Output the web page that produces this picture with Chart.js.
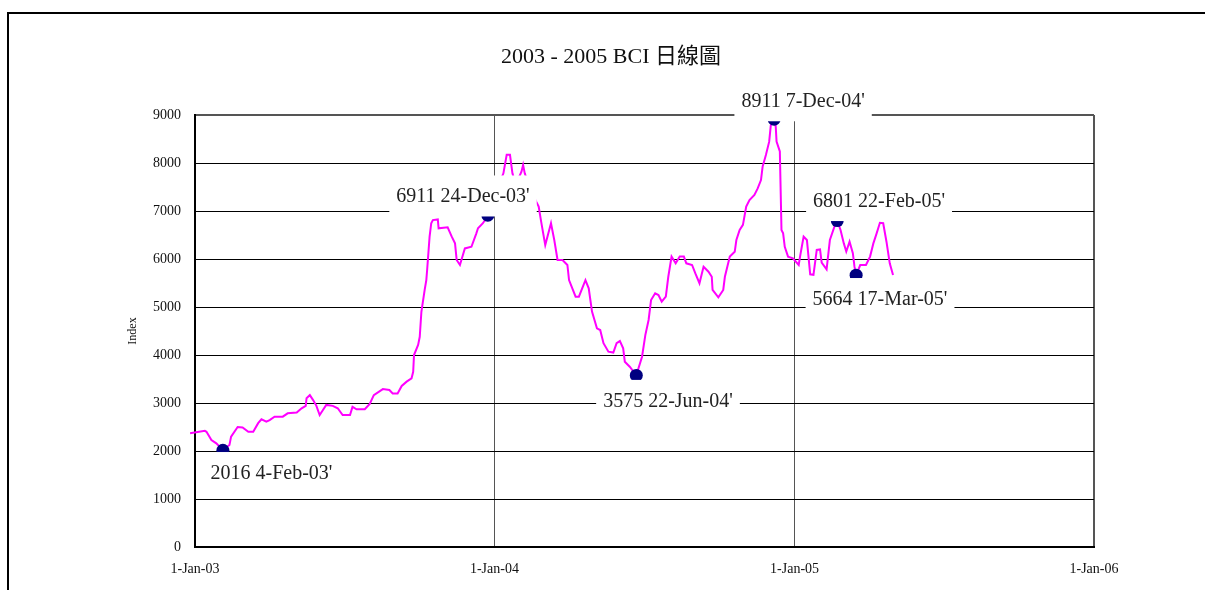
<!DOCTYPE html>
<html>
<head>
<meta charset="utf-8">
<script src="https://cdn.jsdelivr.net/npm/chart.js@4/dist/chart.umd.min.js"></script>
<style>
html,body{margin:0;padding:0;background:#fff;}
#wrap{width:1205px;height:590px;position:relative;}
</style>
</head>
<body>
<div id="wrap"><canvas id="c" width="1205" height="590"></canvas></div>
<script>
// ---- Data ----
const titleText = "2003 - 2005 BCI 日線圖";
const yAxisTitle = "Index";
const xTickDates = ["2003-01-01","2004-01-01","2005-01-01","2006-01-01"];
const xTickLabels = ["1-Jan-03","1-Jan-04","1-Jan-05","1-Jan-06"];
const yTickValues = [0,1000,2000,3000,4000,5000,6000,7000,8000,9000];

const dates = [
"2002-12-26","2003-01-13","2003-01-15","2003-01-21","2003-01-27","2003-02-04","2003-02-12","2003-02-14","2003-02-22","2003-02-28",
"2003-03-07","2003-03-13","2003-03-19","2003-03-23","2003-03-29","2003-04-02","2003-04-08","2003-04-18","2003-04-24","2003-05-05",
"2003-05-11","2003-05-16","2003-05-17","2003-05-21","2003-05-25","2003-05-29","2003-06-02","2003-06-06","2003-06-10","2003-06-18",
"2003-06-24","2003-06-30","2003-07-09","2003-07-12","2003-07-17","2003-07-27","2003-08-02","2003-08-07","2003-08-18","2003-08-26",
"2003-08-30","2003-09-05","2003-09-10","2003-09-16","2003-09-22","2003-09-24","2003-09-25","2003-09-30","2003-10-02","2003-10-04",
"2003-10-08","2003-10-10","2003-10-11","2003-10-14","2003-10-16","2003-10-18","2003-10-24","2003-10-25","2003-11-05","2003-11-10",
"2003-11-14","2003-11-16","2003-11-20","2003-11-26","2003-12-04","2003-12-10","2003-12-12","2003-12-18","2003-12-22","2003-12-24",
"2003-12-29","2004-01-05","2004-01-12","2004-01-16","2004-01-20","2004-01-23","2004-01-27","2004-02-03","2004-02-05","2004-02-07",
"2004-02-13","2004-02-21","2004-02-24","2004-02-27","2004-03-03","2004-03-10","2004-03-14","2004-03-18","2004-03-24","2004-03-30",
"2004-04-01","2004-04-09","2004-04-13","2004-04-21","2004-04-25","2004-04-29","2004-05-05","2004-05-09","2004-05-13","2004-05-19",
"2004-05-25","2004-05-29","2004-06-02","2004-06-06","2004-06-08","2004-06-14","2004-06-22","2004-06-29","2004-07-03","2004-07-07",
"2004-07-10","2004-07-15","2004-07-19","2004-07-23","2004-07-28","2004-07-31","2004-08-04","2004-08-09","2004-08-14","2004-08-19",
"2004-08-22","2004-08-29","2004-09-02","2004-09-07","2004-09-12","2004-09-18","2004-09-22","2004-09-23","2004-09-30","2004-10-06",
"2004-10-08","2004-10-14","2004-10-20","2004-10-22","2004-10-26","2004-10-30","2004-11-03","2004-11-07","2004-11-13","2004-11-17",
"2004-11-21","2004-11-23","2004-11-27","2004-12-01","2004-12-03","2004-12-07","2004-12-09","2004-12-10","2004-12-14","2004-12-16",
"2004-12-18","2004-12-20","2004-12-24","2004-12-30","2005-01-06","2005-01-08","2005-01-12","2005-01-16","2005-01-20","2005-01-24",
"2005-01-28","2005-02-01","2005-02-03","2005-02-09","2005-02-13","2005-02-20","2005-02-22","2005-02-26","2005-03-02","2005-03-05",
"2005-03-09","2005-03-13","2005-03-15","2005-03-17","2005-03-22","2005-03-29","2005-04-03","2005-04-07","2005-04-11","2005-04-15",
"2005-04-19","2005-04-23","2005-04-27","2005-05-01"
];
const values = [
2370,2420,2400,2230,2160,2016,2125,2300,2500,2490,
2400,2400,2580,2660,2610,2645,2715,2715,2785,2800,
2890,2940,3100,3165,3060,2940,2750,2855,2960,2940,
2890,2750,2750,2920,2870,2870,2980,3165,3290,3270,
3200,3200,3355,3445,3515,3650,4000,4210,4380,4900,
5355,5560,5770,6465,6745,6810,6825,6640,6660,6465,
6325,5980,5875,6220,6255,6535,6640,6745,6850,6911,
7150,7500,7785,8170,8170,7785,7550,7820,7960,7785,
7500,7195,7090,6780,6290,6745,6395,5980,5980,5875,
5560,5215,5215,5560,5390,4905,4555,4520,4245,4070,
4050,4245,4290,4140,3860,3755,3575,3965,4415,4730,
5145,5285,5250,5110,5215,5630,6050,5910,6050,6050,
5910,5875,5700,5495,5840,5735,5630,5355,5200,5355,
5630,6050,6150,6395,6605,6710,7090,7230,7335,7470,
7645,7925,8165,8445,8790,8911,8755,8445,8240,6605,
6535,6255,6050,6015,5875,6085,6465,6395,5680,5670,
6190,6200,5925,5785,6395,6745,6801,6605,6325,6155,
6360,6120,5840,5664,5875,5875,6050,6325,6535,6755,
6745,6360,5910,5665
];

// highlighted points with their annotation text
const markerDates  = ["2003-02-04","2003-12-24","2004-06-22","2004-12-07","2005-02-22","2005-03-17"];
const markerValues = [2016, 6911, 3575, 8911, 6801, 5664];
const markerLabels = ["2016 4-Feb-03'","6911 24-Dec-03'","3575 22-Jun-04'","8911 7-Dec-04'","6801 22-Feb-05'","5664 17-Mar-05'"];
// label centre offsets (px) from the marker
const labelOffsets = [[48.6,22.3],[-24.8,-19.3],[31.7,25],[29,-18.5],[41.8,-20],[23.9,23.4]];

// ---- helpers ----
const toMs = s => { const p = s.split('-').map(Number); return Date.UTC(p[0], p[1]-1, p[2]); };
const lineData = dates.map((d,i) => ({x: toMs(d), y: values[i]}));
const markerData = markerDates.map((d,i) => ({x: toMs(d), y: markerValues[i]}));
const tickMs = xTickDates.map(toMs);

const SERIF = "'Liberation Serif','Times New Roman',serif";

const framePlugin = {
  id: 'frame',
  beforeDraw(chart) {
    const ctx = chart.ctx;
    ctx.save();
    ctx.fillStyle = '#fff';
    ctx.fillRect(0,0,chart.width,chart.height);
    ctx.strokeStyle = '#000';
    ctx.lineWidth = 2;
    ctx.beginPath();
    ctx.moveTo(8, 590); ctx.lineTo(8, 13); ctx.lineTo(1205, 13);
    ctx.stroke();
    // title
    ctx.fillStyle = '#111';
    ctx.font = "22px 'Liberation Serif','Noto Sans CJK TC',serif";
    ctx.textAlign = 'center';
    ctx.textBaseline = 'middle';
    ctx.fillText(titleText, 611, 57);
    ctx.restore();
  },
  afterDatasetsDraw(chart) {
    const ctx = chart.ctx;
    const xs = chart.scales.x, ys = chart.scales.y;
    ctx.save();
    ctx.font = "20px " + SERIF;
    ctx.textAlign = 'center';
    ctx.textBaseline = 'middle';
    markerData.forEach((p,i) => {
      const cx = xs.getPixelForValue(p.x) + labelOffsets[i][0];
      const cy = ys.getPixelForValue(p.y) + labelOffsets[i][1];
      const w = ctx.measureText(markerLabels[i]).width + 14;
      const h = 41;
      ctx.fillStyle = '#fff';
      ctx.fillRect(cx - w/2, cy - h/2, w, h);
      ctx.fillStyle = '#222';
      ctx.fillText(markerLabels[i], cx, cy + 1);
    });
    ctx.restore();
  }
};

new Chart(document.getElementById('c'), {
  type: 'line',
  data: {
    datasets: [
      {
        type: 'scatter',
        data: markerData,
        showLine: false,
        pointRadius: 6.5,
        pointHoverRadius: 6.5,
        pointBackgroundColor: '#000080',
        pointBorderWidth: 0,
        order: 1
      },
      {
        data: lineData,
        borderColor: '#FF00FF',
        borderWidth: 2,
        pointRadius: 0,
        tension: 0,
        clip: false,
        order: 2
      }
    ]
  },
  options: {
    responsive: false,
    animation: false,
    events: [],
    layout: { padding: { left: 122, right: 111, top: 115, bottom: 0 } },
    plugins: { legend: { display: false }, tooltip: { enabled: false }, title: { display: false } },
    scales: {
      x: {
        type: 'linear',
        min: tickMs[0],
        max: tickMs[tickMs.length-1],
        afterBuildTicks: s => { s.ticks = tickMs.map(v => ({value: v})); },
        afterFit: s => { s.height = 43; },
        ticks: {
          autoSkip: false,
          maxRotation: 0,
          padding: 14,
          color: '#111',
          font: { family: SERIF, size: 14 },
          callback: (v) => { const i = tickMs.indexOf(v); return i >= 0 ? xTickLabels[i] : ''; }
        },
        grid: {
          drawTicks: false,
          color: ctx => '#555',
          lineWidth: ctx => (ctx.index === tickMs.length - 1 ? 2 : 1)
        },
        border: { display: true, color: '#000', width: 2 }
      },
      y: {
        min: 0,
        max: 9000,
        afterBuildTicks: s => { s.ticks = yTickValues.map(v => ({value: v})); },
        afterFit: s => { s.width = 73; },
        title: { display: true, text: yAxisTitle, color: '#111', font: { family: SERIF, size: 12 }, padding: { top: 4, bottom: 4 } },
        ticks: {
          padding: 14,
          color: '#111',
          font: { family: SERIF, size: 14 },
          callback: v => String(v)
        },
        grid: {
          drawTicks: false,
          color: ctx => (ctx.tick && ctx.tick.value === 9000 ? '#555' : '#000'),
          lineWidth: ctx => (ctx.tick && ctx.tick.value === 9000 ? 2 : 1)
        },
        border: { display: true, color: '#000', width: 2 }
      }
    }
  },
  plugins: [framePlugin]
});
</script>
</body>
</html>
